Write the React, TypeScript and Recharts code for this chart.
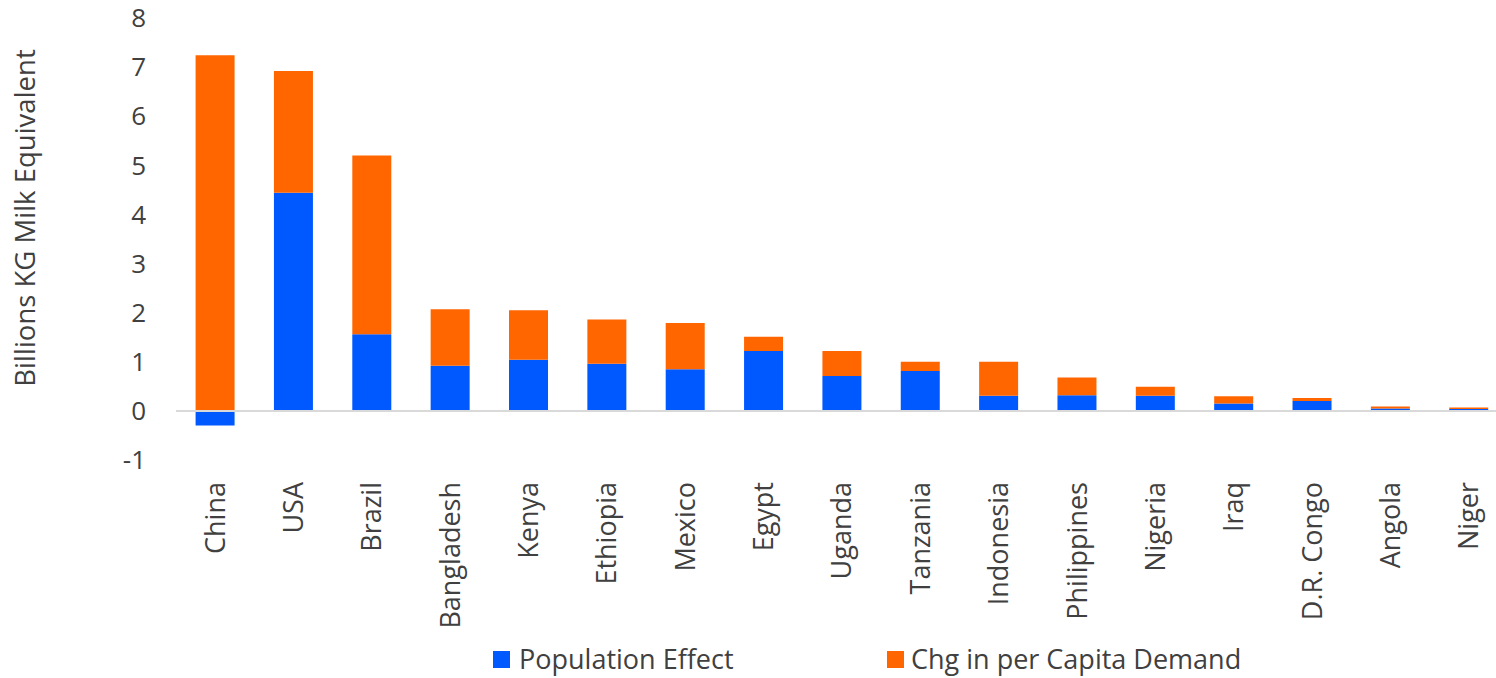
import { BarChart, Bar, XAxis, YAxis, Legend, ReferenceLine } from "recharts"

const countries = [
  "China", "USA", "Brazil", "Bangladesh", "Kenya", "Ethiopia", "Mexico", "Egypt", "Uganda",
  "Tanzania", "Indonesia", "Philippines", "Nigeria", "Iraq", "D.R. Congo", "Angola", "Niger",
]
const populationEffect = [-0.3, 4.44, 1.56, 0.92, 1.04, 0.96, 0.85, 1.22, 0.71, 0.81, 0.31, 0.32, 0.31, 0.15, 0.2, 0.05, 0.04]
const perCapitaChange = [7.24, 2.48, 3.64, 1.15, 1.01, 0.9, 0.94, 0.29, 0.51, 0.19, 0.69, 0.36, 0.18, 0.15, 0.06, 0.04, 0.03]
const yTicks = [-1, 0, 1, 2, 3, 4, 5, 6, 7, 8]

const data = countries.map((name, i) => ({
  name,
  pop: populationEffect[i],
  capita: perCapitaChange[i],
}))

const BLUE = "#0059FF"
const ORANGE = "#FF6600"
const TEXT = "#404040"
const FONT = "'Open Sans', sans-serif"

const XTick = (props: any) => {
  const { x, y, payload } = props
  return (
    <g transform={`translate(${x},${y})`}>
      <text transform="rotate(-90)" x={-14} dy="0.35em" textAnchor="end" fill={TEXT} fontSize={27} fontFamily={FONT}>
        {payload.value}
      </text>
    </g>
  )
}

const YLabel = (props: any) => {
  const { viewBox } = props
  const cy = viewBox.y + viewBox.height / 2 - 21
  return (
    <text transform={`translate(25,${cy}) rotate(-90)`} textAnchor="middle" dy="0.35em" fill={TEXT} fontSize={27.5} fontFamily={FONT}>
      Billions KG Milk Equivalent
    </text>
  )
}

const LegendBox = () => (
  <div style={{ display: "flex", alignItems: "center", height: 32, fontFamily: FONT, fontSize: 27, lineHeight: "32px", color: TEXT, whiteSpace: "nowrap" }}>
    <div style={{ display: "flex", alignItems: "center", width: 394 }}>
      <span style={{ width: 17, height: 17, background: BLUE, marginRight: 9 }} />
      <span>Population Effect</span>
    </div>
    <div style={{ display: "flex", alignItems: "center" }}>
      <span style={{ width: 17, height: 17, background: ORANGE, marginRight: 7 }} />
      <span>Chg in per Capita Demand</span>
    </div>
  </div>
)

export default function App() {
  return (
    <div style={{ width: 1496, height: 678, overflow: "hidden" }}>
      <style>{"body{margin:0}"}</style>
      <BarChart
        width={1508}
        height={678}
        data={data}
        stackOffset="sign"
        barCategoryGap="25%"
        margin={{ top: 18, right: 0, left: 0, bottom: 3 }}
      >
        <XAxis dataKey="name" axisLine={false} tickLine={false} interval={0} height={183} tick={<XTick />} />
        <YAxis
          width={176}
          domain={[-1, 8]}
          ticks={yTicks}
          axisLine={false}
          tickLine={false}
          tickMargin={24}
          tick={{ fill: TEXT, fontSize: 26, fontFamily: FONT }}
          label={<YLabel />}
        />
        <ReferenceLine y={0} stroke="#d9d9d9" strokeWidth={2} />
        <Legend
          verticalAlign="bottom"
          content={<LegendBox />}
          wrapperStyle={{ left: 493, width: 900, height: 32 }}
        />
        <Bar dataKey="pop" name="Population Effect" stackId="a" fill={BLUE} isAnimationActive={false} />
        <Bar dataKey="capita" name="Chg in per Capita Demand" stackId="a" fill={ORANGE} isAnimationActive={false} />
      </BarChart>
    </div>
  )
}
